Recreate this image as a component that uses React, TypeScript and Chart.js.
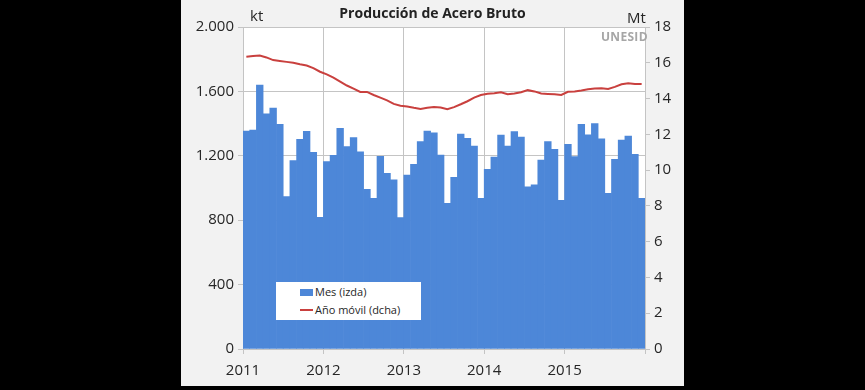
import React, { useEffect, useRef } from "react";
import { Chart, registerables } from "chart.js";

Chart.register(...registerables);

const monthlyKt: number[] = [
  1354, 1360, 1640, 1460, 1497, 1396, 946, 1170, 1302, 1352, 1222, 818,
  1164, 1203, 1371, 1257, 1313, 1224, 992, 936, 1197, 1091, 1050, 816,
  1081, 1147, 1288, 1354, 1342, 1205, 905, 1066, 1335, 1308, 1261, 936,
  1116, 1192, 1329, 1261, 1350, 1317, 1008, 1019, 1174, 1288, 1240, 923,
  1271, 1195, 1396, 1331, 1400, 1306, 967, 1178, 1298, 1323, 1209, 936,
];

const movingYearMt: number[] = [
  16.34, 16.38, 16.4, 16.3, 16.15, 16.1, 16.05, 16.0, 15.92, 15.85, 15.7, 15.5,
  15.35, 15.17, 14.95, 14.73, 14.55, 14.37, 14.37, 14.2, 14.05, 13.9, 13.7, 13.6,
  13.55, 13.48, 13.42, 13.48, 13.53, 13.5, 13.4, 13.52, 13.68, 13.85, 14.05, 14.2,
  14.27, 14.3, 14.35, 14.24, 14.28, 14.35, 14.47, 14.4, 14.28, 14.26, 14.24, 14.2,
  14.38, 14.4, 14.45, 14.52, 14.56, 14.57, 14.53, 14.65, 14.8, 14.85, 14.82, 14.81,
];

const yearTickLabels: string[] = ["2011", "2012", "2013", "2014", "2015", ""];
const yearTickPositions: number[] = [0, 12, 24, 36, 48, 60];

const FONT = "'Open Sans', 'Liberation Sans', sans-serif";
const BAR_COLOR = "#4d87d8";
const LINE_COLOR = "#c9403e";
const GRID = "#c4c4c4";
const TEXT = "#262626";

export default function App() {
  const ref = useRef<HTMLCanvasElement | null>(null);

  useEffect(() => {
    if (!ref.current) return;
    const barData = monthlyKt.map((v, i) => ({ x: i + 0.5, y: v }));
    const lineData = movingYearMt.map((v, i) => ({ x: i + 0.5, y: v }));

    const whiteArea = {
      id: "whiteArea",
      beforeDraw(chart: any) {
        const { ctx, chartArea } = chart;
        ctx.save();
        ctx.fillStyle = "#ffffff";
        ctx.fillRect(chartArea.left, chartArea.top, chartArea.right - chartArea.left, chartArea.bottom - chartArea.top);
        ctx.restore();
      },
    };

    const chart = new Chart(ref.current, {
      type: "bar",
      data: {
        datasets: [
          {
            type: "line",
            label: "Año móvil (dcha)",
            data: lineData,
            yAxisID: "yR",
            borderColor: LINE_COLOR,
            borderWidth: 2,
            pointRadius: 0,
            tension: 0,
            order: 0,
          } as any,
          {
            type: "bar",
            label: "Mes (izda)",
            data: barData,
            yAxisID: "yL",
            backgroundColor: BAR_COLOR,
            borderWidth: 0,
            barPercentage: 1,
            categoryPercentage: 1,
            order: 1,
          } as any,
        ],
      },
      options: {
        responsive: false,
        animation: false,
        layout: { padding: { top: 27, left: 0, right: 0, bottom: 0 } },
        plugins: { legend: { display: false }, tooltip: { enabled: false }, title: { display: false } },
        scales: {
          x: {
            type: "linear",
            min: 0,
            max: 60,
            offset: false,
            afterBuildTicks(scale: any) {
              scale.ticks = yearTickPositions.map((v) => ({ value: v }));
            },
            afterFit(scale: any) {
              scale.height = 37;
            },
            ticks: {
              autoSkip: false,
              maxRotation: 0,
              padding: 8,
              color: TEXT,
              font: { family: FONT, size: 15 },
              callback: (_v: any, i: number) => yearTickLabels[i],
            },
            grid: { color: GRID, tickLength: 5, drawTicks: true, offset: false },
            border: { color: GRID },
          },
          yL: {
            type: "linear",
            position: "left",
            min: 0,
            max: 2000,
            afterFit(scale: any) {
              scale.width = 62;
            },
            ticks: {
              stepSize: 400,
              padding: 4,
              color: TEXT,
              font: { family: FONT, size: 15 },
              callback: (v: any) => {
                const n = Number(v);
                return n >= 1000 ? `${Math.floor(n / 1000)}.${String(n % 1000).padStart(3, "0")}` : String(n);
              },
            },
            grid: { color: GRID, tickLength: 5 },
            border: { color: GRID },
          },
          yR: {
            type: "linear",
            position: "right",
            min: 0,
            max: 18,
            afterFit(scale: any) {
              scale.width = 39;
            },
            ticks: {
              stepSize: 2,
              padding: 4,
              color: TEXT,
              font: { family: FONT, size: 15 },
            },
            grid: { drawOnChartArea: false, color: GRID, tickLength: 5 },
            border: { color: GRID },
          },
        },
      } as any,
      plugins: [whiteArea],
    });
    return () => chart.destroy();
  }, []);

  const txt: React.CSSProperties = { position: "absolute", fontFamily: FONT, color: TEXT, whiteSpace: "nowrap", lineHeight: 1 };

  return (
    <div style={{ position: "fixed", inset: 0, background: "#000000" }}>
      <div style={{ position: "absolute", left: 181, top: 0, width: 503, height: 386, background: "#f2f2f2" }}>
        <canvas ref={ref} width={503} height={386} style={{ position: "absolute", left: 0, top: 0 }} />
        <div style={{ ...txt, left: 0, width: 503, top: 6, textAlign: "center", fontWeight: 700, fontSize: 14, color: "#222" }}>
          Producción de Acero Bruto
        </div>
        <div style={{ ...txt, left: 69, top: 8, fontSize: 15 }}>kt</div>
        <div style={{ ...txt, left: 446, top: 10, fontSize: 15 }}>Mt</div>
        <div style={{ ...txt, left: 420, top: 31, fontSize: 12, fontWeight: 700, color: "#a6a6a6", letterSpacing: 0.3 }}>UNESID</div>
        <div style={{ position: "absolute", left: 95, top: 282, width: 145, height: 38, background: "#ffffff" }}>
          <div style={{ position: "absolute", left: 24, top: 7, width: 13, height: 7, background: BAR_COLOR }} />
          <div style={{ ...txt, left: 39, top: 4, fontSize: 11 }}>Mes (izda)</div>
          <div style={{ position: "absolute", left: 24, top: 27, width: 13, height: 2, background: LINE_COLOR }} />
          <div style={{ ...txt, left: 39, top: 22, fontSize: 11 }}>Año móvil (dcha)</div>
        </div>
      </div>
    </div>
  );
}
